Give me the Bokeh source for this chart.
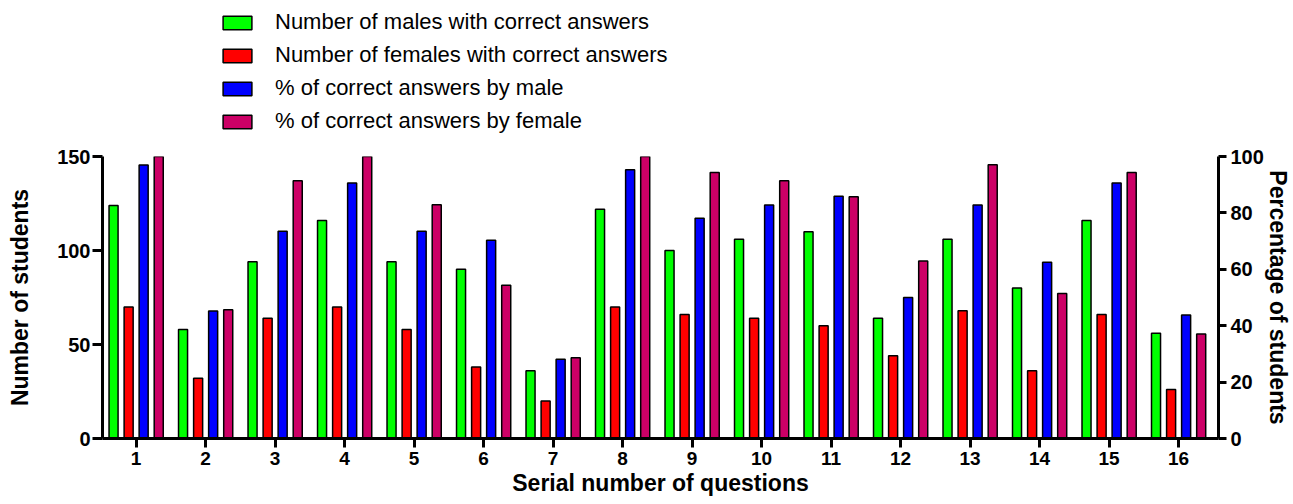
import numpy as np
from bokeh.plotting import figure
from bokeh.layouts import column
from bokeh.models import Range1d, LinearAxis, FixedTicker, Legend, LegendItem, ColumnDataSource
from bokeh.transform import dodge
from bokeh.embed import file_html
from bokeh.resources import INLINE

questions = list(range(1, 17))
males = [124, 58, 94, 116, 94, 90, 36, 122, 100, 106, 110, 64, 106, 80, 116, 56]
females = [70, 32, 64, 70, 58, 38, 20, 70, 66, 64, 60, 44, 68, 36, 66, 26]
pct_male = [97.0, 45.2, 73.5, 90.6, 73.5, 70.3, 28.1, 95.3, 78.1, 82.8, 85.9, 50.0, 82.8, 62.5, 90.6, 43.8]
pct_female = [100, 45.7, 91.4, 100, 82.9, 54.3, 28.6, 100, 94.3, 91.4, 85.7, 62.9, 97.1, 51.4, 94.3, 37.1]
series_labels = ["Number of males with correct answers",
                 "Number of females with correct answers",
                 "% of correct answers by male",
                 "% of correct answers by female"]
series_colors = ["#00FF00", "#FF0000", "#0000FF", "#CC0066"]
left_ticks = [0, 50, 100, 150]
right_ticks = [0, 20, 40, 60, 80, 100]

src = ColumnDataSource(dict(q=questions, males=males, females=females, pm=pct_male, pf=pct_female))

FONT = "Liberation Sans"

# ---- legend strip (its own frame holds the legend, so nothing is clipped)
TOP_H = 140
lg = figure(width=1293, height=TOP_H, output_backend="svg", toolbar_location=None,
            x_range=Range1d(0, 1), y_range=Range1d(0, 1),
            x_axis_location=None, y_axis_location=None,
            min_border_left=0, min_border_right=0, min_border_top=0, min_border_bottom=0)
lg.outline_line_color = None
lg.xgrid.visible = False
lg.ygrid.visible = False
# legend-key renderers: their single value is NaN, so they draw nothing themselves
key_src = ColumnDataSource(dict(x=np.array([0.5]), top=np.array([np.nan]), bottom=np.array([0.0])))
keys = [lg.vbar(x="x", top="top", bottom="bottom", width=0.1, source=key_src,
                fill_color=c, line_color="black", line_width=1.5)
        for c in series_colors]
legend = Legend(items=[LegendItem(label=lab, renderers=[r]) for lab, r in zip(series_labels, keys)],
                location=(117, 6), glyph_width=36, glyph_height=17, label_height=25,
                spacing=7, padding=0, margin=0, label_standoff=20,
                label_text_font=FONT, label_text_font_size="22px", label_text_color="black",
                border_line_color=None, background_fill_alpha=0)
lg.add_layout(legend)

# ---- main chart
p = figure(width=1293, height=504 - TOP_H, output_backend="svg", toolbar_location=None,
           x_range=Range1d(0.516, 16.574), y_range=Range1d(0, 150),
           min_border_left=102, min_border_right=73, min_border_top=16, min_border_bottom=66)
p.extra_y_ranges = {"pct": Range1d(0, 100)}
p.outline_line_color = None
p.xgrid.visible = False
p.ygrid.visible = False

p.add_layout(LinearAxis(y_range_name="pct", ticker=FixedTicker(ticks=right_ticks),
                        axis_label="Percentage of students"), "right")

p.xaxis.ticker = FixedTicker(ticks=questions)
p.yaxis[0].ticker = FixedTicker(ticks=left_ticks)
p.xaxis.axis_label = "Serial number of questions"
p.yaxis[0].axis_label = "Number of students"

for ax in p.axis:
    ax.axis_line_width = 3
    ax.axis_line_color = "black"
    ax.major_tick_line_width = 3
    ax.major_tick_line_color = "black"
    ax.major_tick_in = 0
    ax.minor_tick_line_color = None
    ax.major_label_text_font = FONT
    ax.major_label_text_font_style = "bold"
    ax.major_label_text_color = "black"
    ax.axis_label_text_font = FONT
    ax.axis_label_text_font_style = "bold"
    ax.axis_label_text_color = "black"

p.xaxis.major_tick_out = 9
p.xaxis.major_label_text_font_size = "19px"
p.xaxis.major_label_standoff = 4
p.xaxis.axis_label_text_font_size = "23px"
p.xaxis.axis_label_standoff = 2

p.yaxis[0].major_tick_out = 10
p.yaxis[0].major_label_text_font_size = "20px"
p.yaxis[0].major_label_standoff = 2
p.yaxis[0].axis_label_text_font_size = "23px"
p.yaxis[0].axis_label_standoff = 21

p.yaxis[1].major_tick_out = 8
p.yaxis[1].major_label_text_font_size = "20px"
p.yaxis[1].major_label_standoff = 4
p.yaxis[1].axis_label_text_font_size = "23px"
p.yaxis[1].axis_label_standoff = -2

W = 0.13
p.vbar(x=dodge("q", -0.325, range=p.x_range), top="males", width=W, source=src,
       fill_color=series_colors[0], line_color="black", line_width=1.5)
p.vbar(x=dodge("q", -0.108, range=p.x_range), top="females", width=W, source=src,
       fill_color=series_colors[1], line_color="black", line_width=1.5)
p.vbar(x=dodge("q", 0.108, range=p.x_range), top="pm", width=W, source=src, y_range_name="pct",
       fill_color=series_colors[2], line_color="black", line_width=1.5)
p.vbar(x=dodge("q", 0.325, range=p.x_range), top="pf", width=W, source=src, y_range_name="pct",
       fill_color=series_colors[3], line_color="black", line_width=1.5)

layout = column(lg, p, spacing=0)
open("out.html", "w").write(file_html(layout, INLINE))
